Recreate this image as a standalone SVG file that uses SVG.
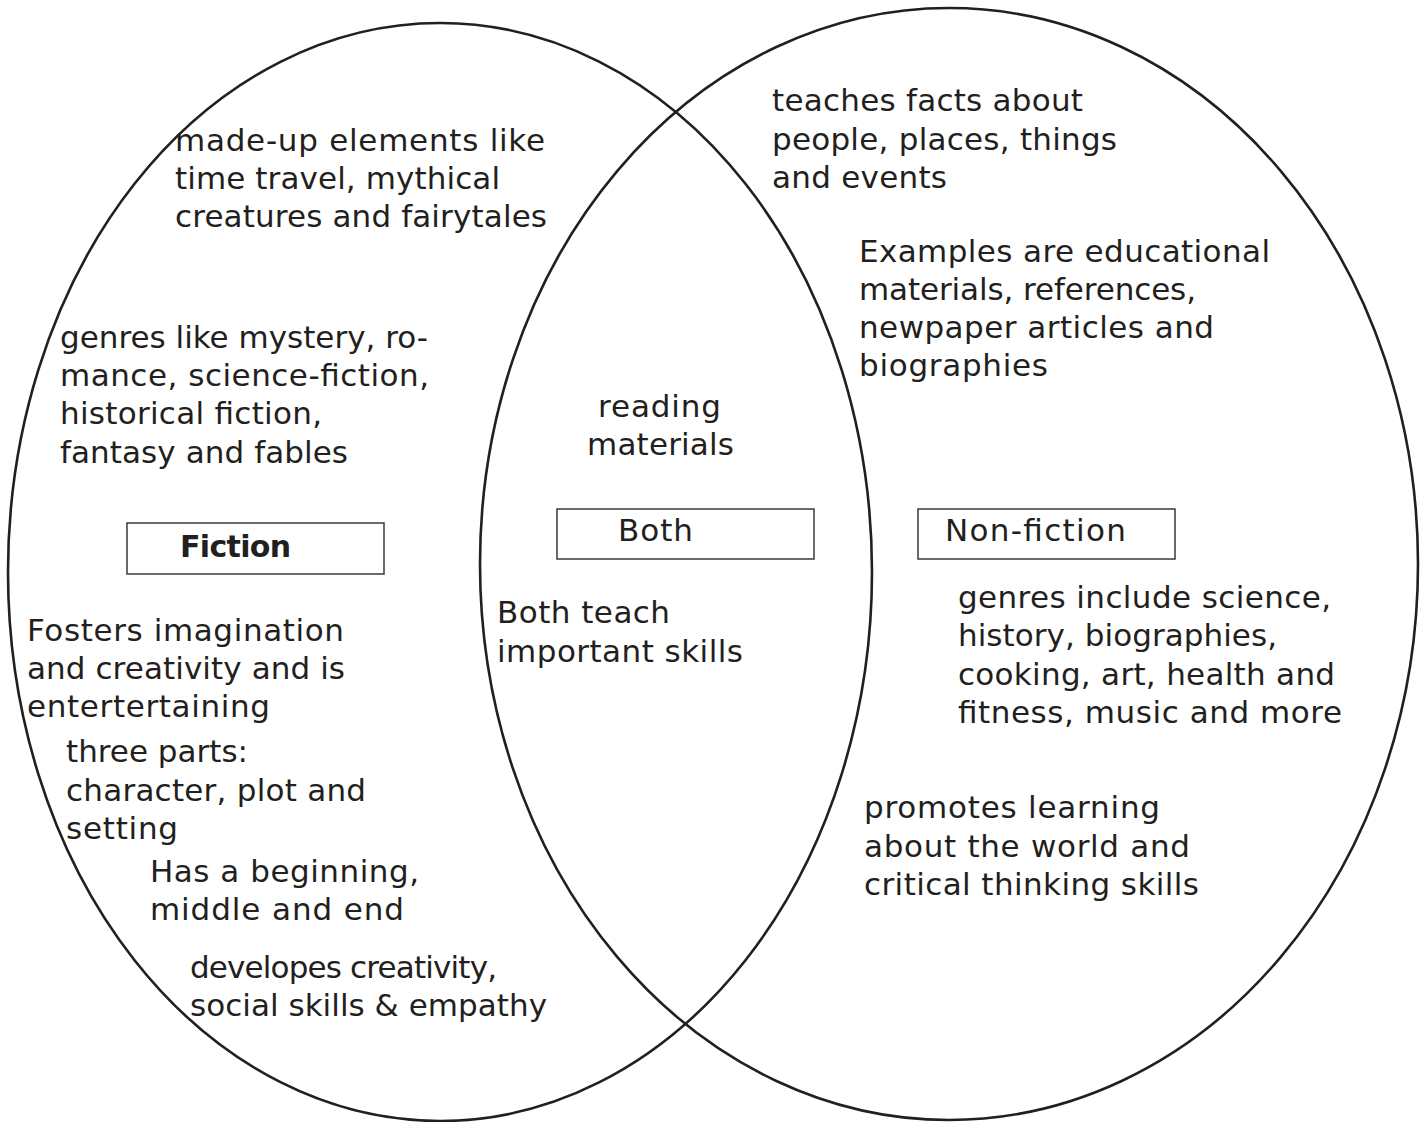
<svg xmlns="http://www.w3.org/2000/svg" width="1424" height="1122" viewBox="0 0 1424 1122">
<style>
.ring{fill:none;stroke:#231f20;stroke-width:2.6}
.box{fill:#fff;stroke:#3a3a3a;stroke-width:1.5}
text{font-family:"DejaVu Sans","Liberation Sans",sans-serif;font-size:31px;fill:#231f20}
.b{font-weight:bold;font-size:30px}
</style>
<rect width="1424" height="1122" fill="#fff"/>
<g id="connectors"></g>
<g id="fiction-circle"><ellipse class="ring" cx="440" cy="572" rx="432" ry="549"/></g>
<g id="nonfiction-circle"><ellipse class="ring" cx="949" cy="564" rx="469" ry="556"/></g>

<g id="fiction-label"><rect class="box" x="127" y="523" width="257" height="51"/><text class="b" x="180" y="557" textLength="111">Fiction</text></g>
<g id="both-label"><rect class="box" x="557" y="509" width="257" height="50"/><text x="618" y="541" textLength="75">Both</text></g>
<g id="nonfiction-label"><rect class="box" x="918" y="509" width="257" height="50"/><text x="945" y="541" textLength="181">Non-fiction</text></g>

<g id="f1"><text x="175" y="151" textLength="370">made-up elements like</text><text x="175" y="189" textLength="325">time travel, mythical</text><text x="175" y="227" textLength="372">creatures and fairytales</text></g>
<g id="f2"><text x="60" y="348" textLength="368">genres like mystery, ro-</text><text x="60" y="386" textLength="369">mance, science-fiction,</text><text x="60" y="424" textLength="262">historical fiction,</text><text x="60" y="463" textLength="288">fantasy and fables</text></g>
<g id="f3"><text x="27" y="641" textLength="317">Fosters imagination</text><text x="27" y="679" textLength="318">and creativity and is</text><text x="27" y="717" textLength="243">entertertaining</text></g>
<g id="f4"><text x="66" y="762" textLength="182">three parts:</text><text x="66" y="801" textLength="300">character, plot and</text><text x="66" y="839" textLength="112">setting</text></g>
<g id="f5"><text x="150" y="882" textLength="269">Has a beginning,</text><text x="150" y="920" textLength="254">middle and end</text></g>
<g id="f6"><text x="190" y="978" textLength="307">developes creativity,</text><text x="190" y="1016" textLength="357">social skills &amp; empathy</text></g>

<g id="b1"><text x="598" y="417" textLength="123">reading</text><text x="587" y="455" textLength="147">materials</text></g>
<g id="b2"><text x="497" y="623" textLength="173">Both teach</text><text x="497" y="662" textLength="246">important skills</text></g>

<g id="n1"><text x="772" y="111" textLength="311">teaches facts about</text><text x="772" y="150" textLength="345">people, places, things</text><text x="772" y="188" textLength="175">and events</text></g>
<g id="n2"><text x="859" y="262" textLength="411">Examples are educational</text><text x="859" y="300" textLength="337">materials, references,</text><text x="859" y="338" textLength="355">newpaper articles and</text><text x="859" y="376" textLength="189">biographies</text></g>
<g id="n3"><text x="958" y="608" textLength="373">genres include science,</text><text x="958" y="646" textLength="319">history, biographies,</text><text x="958" y="685" textLength="377">cooking, art, health and</text><text x="958" y="723" textLength="384">fitness, music and more</text></g>
<g id="n4"><text x="864" y="818" textLength="296">promotes learning</text><text x="864" y="857" textLength="326">about the world and</text><text x="864" y="895" textLength="335">critical thinking skills</text></g>
</svg>
